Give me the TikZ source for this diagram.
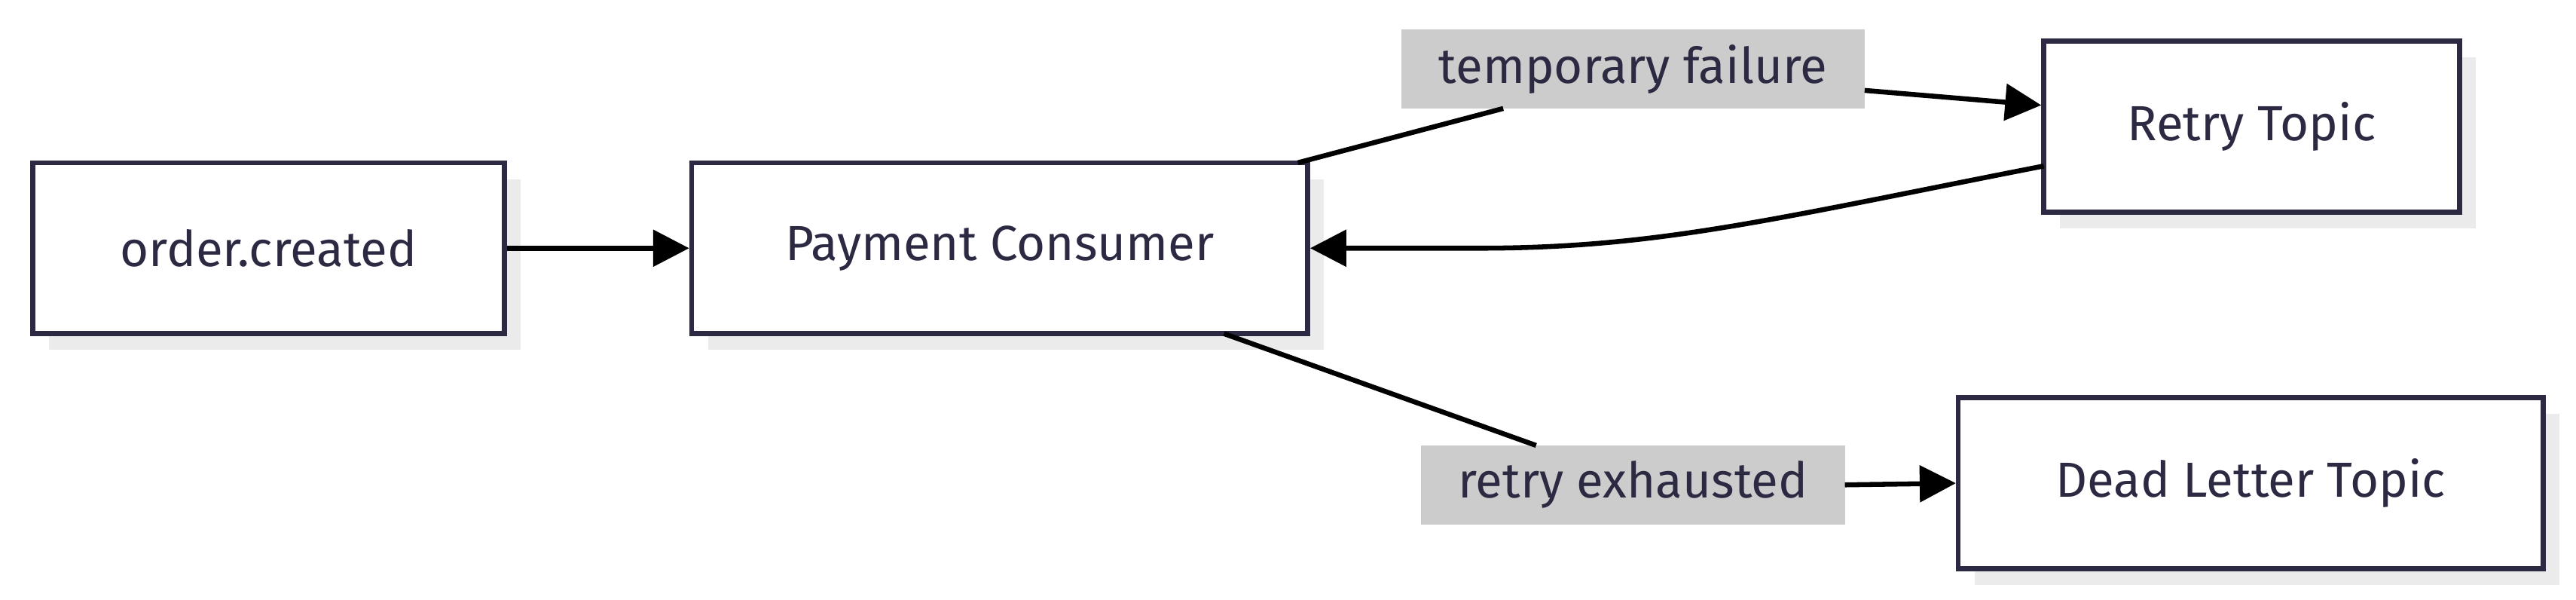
\documentclass[tikz,border=0pt]{standalone}
\usepackage{fontspec}
\setmainfont{Fira Sans}
\usetikzlibrary{arrows.meta}
\definecolor{ink}{HTML}{2B2A42}
\definecolor{shadow}{HTML}{EBEBEB}
\definecolor{lbl}{HTML}{CCCCCC}
\begin{document}
\begin{tikzpicture}[x=1pt,y=-1pt,
  box/.style={draw=ink,line width=3pt,fill=white,text=ink,font=\fontsize{30}{36}\selectfont,inner sep=0pt},
  lab/.style={fill=lbl,text=ink,font=\fontsize{30}{36}\selectfont,inner sep=0pt},
  edge/.style={line width=3pt,draw=black},
  arr/.style={edge,-{Triangle[length=22pt,width=22pt]}}]
\useasboundingbox (0,0) rectangle (1568,365);
% shadows
\fill[shadow] (30,109) rectangle (317,213);
\fill[shadow] (431,109) rectangle (806,213);
\fill[shadow] (1254,35) rectangle (1507,139);
\fill[shadow] (1202,252) rectangle (1558,356);
\node[box,minimum width=287pt,minimum height=104pt] (oc) at (163.5,151) {order.created};
\node[box,minimum width=375pt,minimum height=104pt] (pc) at (608.5,151) {Payment Consumer};
\node[box,minimum width=253pt,minimum height=104pt] (rt) at (1370.5,77) {Retry Topic};
\node[box,minimum width=356pt,minimum height=104pt] (dl) at (1370,294) {Dead Letter Topic};
\node[lab,minimum width=282pt,minimum height=48pt] (tf) at (994,42) {temporary failure};
\node[lab,minimum width=258pt,minimum height=48pt] (re) at (994,295) {retry exhausted};
\coordinate (p1) at (790,99);
\coordinate (t1) at (915,66);
\coordinate (t2) at (1135,55);
\coordinate (r1) at (1244,101);
\coordinate (p2) at (745,203);
\coordinate (e1) at (935,271);
\coordinate (e2) at (1123,295);
\draw[arr] (oc.east) -- (pc.west);
\draw[edge] (p1) -- (t1);
\draw[arr] (t2) -- (rt.west |- 0,64);
\draw[arr] (r1) .. controls (1080,133) and (1010,151) .. (900,151) -- (pc.east);
\draw[edge] (p2) -- (e1);
\draw[arr] (e2) -- (dl.west);
\end{tikzpicture}
\end{document}
